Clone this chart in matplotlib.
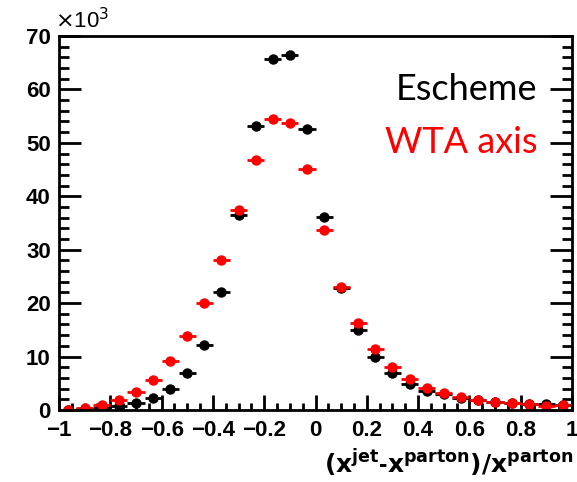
import numpy as np
import matplotlib.pyplot as plt
from matplotlib.ticker import MultipleLocator

# 30 bins between -1 and 1, counts in units of 10^3
bin_edges = np.linspace(-1, 1, 31)
escheme = [0.05, 0.2, 0.4, 0.75, 1.25, 2.3, 3.9, 6.9, 12.2, 22.0,
           36.4, 53.2, 65.6, 66.4, 52.6, 36.2, 22.9, 15.0, 10.0, 6.9,
           4.8, 3.6, 2.9, 2.2, 1.8, 1.5, 1.3, 1.1, 1.05, 0.85]
wta_axis = [0.05, 0.3, 0.9, 1.9, 3.3, 5.7, 9.2, 13.85, 20.1, 28.0,
            37.4, 46.8, 54.4, 53.8, 45.1, 33.6, 23.0, 16.3, 11.4, 8.05,
            5.8, 4.1, 3.2, 2.4, 1.9, 1.55, 1.4, 1.1, 0.7, 0.9]
xtick_labels = ['\u22121', '\u22120.8', '\u22120.6', '\u22120.4', '\u22120.2',
                '0', '0.2', '0.4', '0.6', '0.8', '1']

centers = 0.5 * (bin_edges[1:] + bin_edges[:-1])
half_width = 0.5 * (bin_edges[1] - bin_edges[0])

plt.rcParams['font.family'] = ['Liberation Sans', 'DejaVu Sans']

fig = plt.figure(figsize=(5.77, 4.82), dpi=100)
ax = fig.add_axes([0.1023, 0.1494, 0.889, 0.776])

ax.errorbar(centers, escheme, xerr=half_width, fmt='o', color='black',
            ms=7.5, elinewidth=2, capsize=0, mew=0)
ax.errorbar(centers, wta_axis, xerr=half_width, fmt='o', color='red',
            ms=7.5, elinewidth=2, capsize=0, mew=0)

ax.set_xlim(-1, 1)
ax.set_ylim(0, 70)

ax.xaxis.set_minor_locator(MultipleLocator(0.05))
ax.yaxis.set_minor_locator(MultipleLocator(2))
ax.tick_params(axis='both', which='both', direction='in', top=False,
               right=True, width=2, labelsize=16)
ax.tick_params(axis='x', which='major', length=11, pad=7)
ax.tick_params(axis='x', which='minor', length=5)
ax.tick_params(axis='y', which='major', length=16, pad=6)
ax.tick_params(axis='y', which='minor', length=7)
ax.set_xticks(np.linspace(-1, 1, 11))
ax.set_xticklabels(xtick_labels, fontweight='bold')
ax.set_yticks(range(0, 71, 10))
ax.set_yticklabels([str(v) for v in range(0, 71, 10)], fontweight='bold')

for spine in ax.spines.values():
    spine.set_linewidth(2)

ax.text(-0.008, 1.008, r'$\times$10$^{3}$', transform=ax.transAxes,
        fontsize=16, ha='left', va='bottom')

fig.text(0.993, 0.006,
         r'$\mathbf{(x^{jet}}$-$\mathbf{x^{parton})/x^{parton}}$',
         fontsize=18, fontweight='bold', ha='right', va='bottom')

ax.text(0.932, 0.856, 'Escheme', transform=ax.transAxes, color='black',
        fontsize=26, family='Lato', ha='right', va='center')
ax.text(0.932, 0.714, 'WTA axis', transform=ax.transAxes, color='red',
        fontsize=26, family='Lato', ha='right', va='center')

fig.savefig('out.png', dpi=100)
